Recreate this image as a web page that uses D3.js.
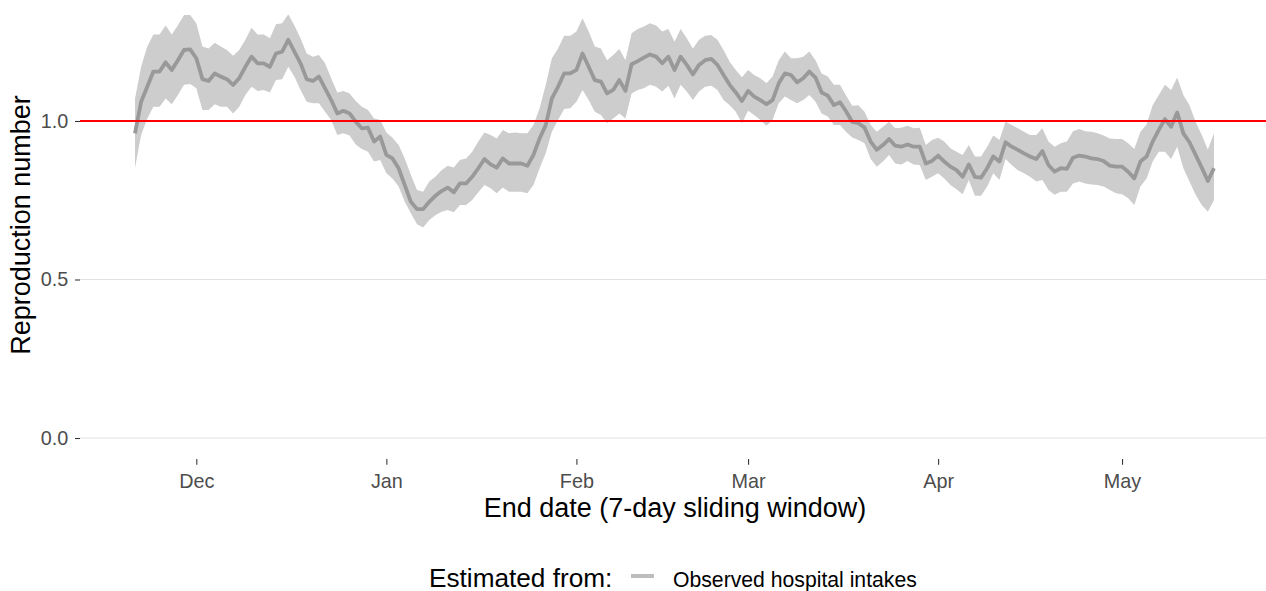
<!DOCTYPE html>
<html>
<head>
<meta charset="utf-8">
<script src="https://cdn.jsdelivr.net/npm/d3@7/dist/d3.min.js"></script>
<style>
  html, body { margin: 0; padding: 0; background: #ffffff; }
  svg { display: block; font-family: "Liberation Sans", Arial, sans-serif; }
</style>
</head>
<body>
<svg id="chart" width="1266" height="591"></svg>
<script>
// Daily estimates, one per end date of the 7-day sliding window.
const firstDate = "2021-11-21";
const lastDate = "2022-05-16";

const rMean = [
  0.961, 1.061, 1.108, 1.156, 1.156, 1.185, 1.161, 1.192, 1.224, 1.226,
  1.198, 1.132, 1.126, 1.150, 1.140, 1.132, 1.114, 1.135, 1.171, 1.203,
  1.182, 1.182, 1.171, 1.213, 1.219, 1.256, 1.219, 1.182, 1.132, 1.126,
  1.140, 1.103, 1.066, 1.024, 1.032, 1.024, 0.998, 0.977, 0.979, 0.935,
  0.951, 0.893, 0.882, 0.851, 0.798, 0.745, 0.722, 0.722, 0.745, 0.764,
  0.779, 0.790, 0.775, 0.803, 0.803, 0.824, 0.851, 0.880, 0.863, 0.853,
  0.882, 0.866, 0.866, 0.866, 0.859, 0.893, 0.945, 0.987, 1.071, 1.108,
  1.150, 1.150, 1.161, 1.213, 1.171, 1.129, 1.124, 1.087, 1.098, 1.129,
  1.095, 1.179, 1.189, 1.200, 1.210, 1.203, 1.182, 1.203, 1.161, 1.203,
  1.177, 1.147, 1.177, 1.192, 1.196, 1.177, 1.145, 1.114, 1.090, 1.063,
  1.095, 1.077, 1.066, 1.053, 1.066, 1.119, 1.150, 1.145, 1.122, 1.135,
  1.156, 1.137, 1.090, 1.080, 1.050, 1.059, 1.030, 0.997, 0.993, 0.979,
  0.935, 0.909, 0.924, 0.943, 0.922, 0.919, 0.926, 0.919, 0.919, 0.866,
  0.874, 0.891, 0.872, 0.856, 0.845, 0.824, 0.863, 0.824, 0.821, 0.851,
  0.888, 0.872, 0.933, 0.919, 0.909, 0.898, 0.888, 0.880, 0.905, 0.861,
  0.840, 0.851, 0.849, 0.884, 0.891, 0.888, 0.882, 0.880, 0.874, 0.859,
  0.856, 0.856, 0.840, 0.819, 0.872, 0.888, 0.935, 0.972, 1.006, 0.982,
  1.027, 0.961, 0.933, 0.893, 0.853, 0.811, 0.851
];

const rUpper = [
  1.070, 1.171, 1.235, 1.273, 1.273, 1.301, 1.273, 1.302, 1.334, 1.334,
  1.308, 1.235, 1.229, 1.247, 1.235, 1.224, 1.206, 1.224, 1.256, 1.294,
  1.273, 1.273, 1.261, 1.305, 1.308, 1.337, 1.301, 1.261, 1.213, 1.203,
  1.208, 1.182, 1.135, 1.090, 1.095, 1.087, 1.063, 1.045, 1.035, 1.008,
  1.003, 0.964, 0.947, 0.924, 0.882, 0.830, 0.782, 0.777, 0.809, 0.824,
  0.845, 0.859, 0.853, 0.877, 0.882, 0.903, 0.935, 0.964, 0.956, 0.945,
  0.972, 0.961, 0.964, 0.961, 0.961, 0.987, 1.040, 1.114, 1.198, 1.229,
  1.269, 1.269, 1.282, 1.324, 1.282, 1.235, 1.229, 1.192, 1.208, 1.227,
  1.192, 1.277, 1.290, 1.298, 1.308, 1.301, 1.282, 1.290, 1.250, 1.290,
  1.261, 1.229, 1.256, 1.269, 1.271, 1.256, 1.224, 1.187, 1.161, 1.138,
  1.161, 1.145, 1.135, 1.119, 1.140, 1.192, 1.219, 1.198, 1.198, 1.203,
  1.219, 1.192, 1.150, 1.140, 1.114, 1.114, 1.080, 1.048, 1.050, 1.029,
  0.987, 0.966, 0.982, 0.998, 0.977, 0.979, 0.985, 0.977, 0.979, 0.924,
  0.940, 0.947, 0.935, 0.914, 0.903, 0.893, 0.924, 0.888, 0.888, 0.919,
  0.954, 0.940, 0.998, 0.987, 0.977, 0.966, 0.956, 0.956, 0.977, 0.935,
  0.919, 0.930, 0.935, 0.968, 0.975, 0.968, 0.966, 0.961, 0.954, 0.945,
  0.943, 0.943, 0.930, 0.912, 0.966, 0.989, 1.050, 1.082, 1.114, 1.098,
  1.137, 1.082, 1.050, 0.998, 0.956, 0.909, 0.961
];

const rLower = [
  0.852, 0.956, 1.008, 1.045, 1.045, 1.071, 1.053, 1.082, 1.114, 1.117,
  1.103, 1.035, 1.035, 1.053, 1.045, 1.045, 1.024, 1.045, 1.082, 1.108,
  1.095, 1.098, 1.090, 1.129, 1.132, 1.171, 1.140, 1.098, 1.061, 1.056,
  1.056, 1.029, 1.003, 0.956, 0.961, 0.954, 0.926, 0.912, 0.903, 0.872,
  0.877, 0.835, 0.819, 0.793, 0.745, 0.709, 0.674, 0.664, 0.688, 0.703,
  0.714, 0.719, 0.712, 0.735, 0.735, 0.751, 0.775, 0.798, 0.788, 0.772,
  0.790, 0.777, 0.777, 0.777, 0.772, 0.798, 0.851, 0.898, 0.966, 1.003,
  1.038, 1.040, 1.061, 1.098, 1.066, 1.029, 1.019, 0.993, 1.008, 1.024,
  1.008, 1.087, 1.098, 1.103, 1.114, 1.108, 1.093, 1.111, 1.071, 1.114,
  1.093, 1.066, 1.093, 1.108, 1.111, 1.098, 1.066, 1.050, 1.029, 0.993,
  1.032, 1.019, 1.003, 0.985, 1.003, 1.056, 1.077, 1.066, 1.056, 1.066,
  1.082, 1.061, 1.024, 1.014, 0.987, 0.987, 0.965, 0.948, 0.940, 0.930,
  0.880, 0.856, 0.872, 0.893, 0.866, 0.863, 0.874, 0.863, 0.861, 0.814,
  0.824, 0.835, 0.819, 0.798, 0.785, 0.769, 0.814, 0.764, 0.764, 0.793,
  0.835, 0.814, 0.880, 0.861, 0.845, 0.835, 0.824, 0.809, 0.814, 0.782,
  0.767, 0.777, 0.777, 0.803, 0.809, 0.803, 0.800, 0.798, 0.793, 0.782,
  0.772, 0.769, 0.756, 0.735, 0.793, 0.819, 0.872, 0.903, 0.903, 0.880,
  0.919, 0.851, 0.809, 0.767, 0.735, 0.714, 0.751
];

const yTicks = [0, 0.5, 1.0];
const monthTicks = ["2021-12-01", "2022-01-01", "2022-02-01", "2022-03-01", "2022-04-01", "2022-05-01"];
const threshold = 1.0;

const legendTitle = "Estimated from:";
const seriesLabel = "Observed hospital intakes";
const xTitle = "End date (7-day sliding window)";
const yTitle = "Reproduction number";

// ---- layout ----
const parseDate = d3.utcParse("%Y-%m-%d");
const start = parseDate(firstDate);
const end = parseDate(lastDate);
const dates = d3.utcDay.range(start, d3.utcDay.offset(end, 1));

const data = dates.map((d, i) => ({ date: d, mean: rMean[i], lo: rLower[i], hi: rUpper[i] }));

const panel = { left: 80, right: 1266, bottom: 459 };

const x = d3.scaleUtc().domain([start, end]).range([135, 1214]);
const y = d3.scaleLinear().domain([0, 1]).range([438, 121]);

const svg = d3.select("#chart");

// horizontal gridlines
svg.append("g")
  .selectAll("line")
  .data(yTicks)
  .join("line")
  .attr("x1", panel.left).attr("x2", panel.right)
  .attr("y1", d => y(d)).attr("y2", d => y(d))
  .attr("stroke", "#e1e1e1")
  .attr("stroke-width", 1.07);

// uncertainty ribbon
svg.append("path")
  .datum(data)
  .attr("fill", "#cdcdcd")
  .attr("d", d3.area()
    .x(d => x(d.date))
    .y0(d => y(d.lo))
    .y1(d => y(d.hi)));

// central estimate
svg.append("path")
  .datum(data)
  .attr("fill", "none")
  .attr("stroke", "#999999")
  .attr("stroke-width", 3.8)
  .attr("stroke-linejoin", "round")
  .attr("d", d3.line()
    .x(d => x(d.date))
    .y(d => y(d.mean)));

// reference line at R = 1
svg.append("line")
  .attr("x1", panel.left).attr("x2", panel.right)
  .attr("y1", y(threshold)).attr("y2", y(threshold))
  .attr("stroke", "#ff0000")
  .attr("stroke-width", 2);

// x axis
const xAxis = svg.append("g")
  .attr("transform", `translate(0,${panel.bottom})`)
  .call(d3.axisBottom(x)
    .tickValues(monthTicks.map(parseDate))
    .tickFormat(d3.utcFormat("%b"))
    .tickSize(5.7)
    .tickPadding(8.8));
xAxis.select(".domain").remove();
xAxis.selectAll(".tick line").attr("stroke", "#333333").attr("stroke-width", 1.07);
xAxis.selectAll(".tick text")
  .attr("fill", "#4d4d4d")
  .style("font-size", "19.8px")
  .style("font-family", "Liberation Sans, Arial, sans-serif");

// y axis
const yAxis = svg.append("g")
  .attr("transform", `translate(${panel.left},0)`)
  .call(d3.axisLeft(y)
    .tickValues(yTicks)
    .tickFormat(d3.format(".1f"))
    .tickSize(5)
    .tickPadding(6.7));
yAxis.select(".domain").remove();
yAxis.selectAll(".tick line").attr("stroke", "#333333").attr("stroke-width", 1.07);
yAxis.selectAll(".tick text")
  .attr("fill", "#4d4d4d")
  .style("font-size", "19.8px")
  .style("font-family", "Liberation Sans, Arial, sans-serif");

// axis titles
svg.append("text")
  .attr("x", 675).attr("y", 517)
  .attr("text-anchor", "middle")
  .style("font-size", "27px")
  .attr("fill", "#000000")
  .text(xTitle);

svg.append("text")
  .attr("transform", "translate(30,225) rotate(-90)")
  .attr("text-anchor", "middle")
  .style("font-size", "27px")
  .attr("fill", "#000000")
  .text(yTitle);

// legend
const legend = svg.append("g");
legend.append("text")
  .attr("x", 429).attr("y", 587)
  .style("font-size", "26.2px")
  .attr("fill", "#000000")
  .text(legendTitle);
legend.append("line")
  .attr("x1", 631).attr("x2", 654)
  .attr("y1", 576).attr("y2", 576)
  .attr("stroke", "#bdbdbd")
  .attr("stroke-width", 4);
legend.append("text")
  .attr("x", 673).attr("y", 587)
  .style("font-size", "21.2px")
  .attr("fill", "#000000")
  .text(seriesLabel);
</script>
</body>
</html>
